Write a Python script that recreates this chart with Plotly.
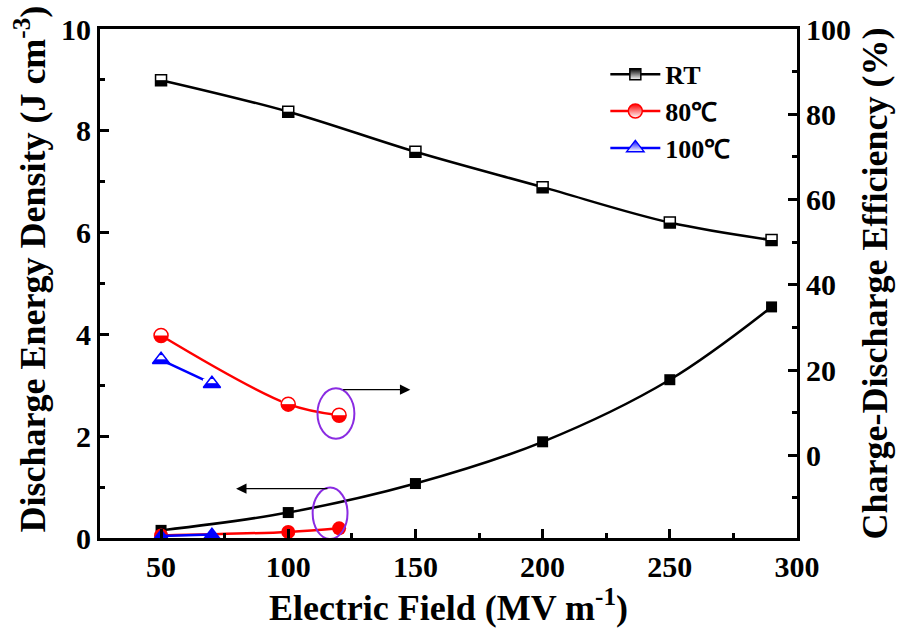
import plotly.graph_objects as go

# ---- data ----
field_rt = [50, 100, 150, 200, 250, 290]
energy_rt = [0.15, 0.50, 1.07, 1.89, 3.11, 4.54]
eff_rt = [88.0, 80.6, 71.2, 62.9, 54.6, 50.5]

field_80 = [50, 100, 120]
energy_80 = [0.05, 0.12, 0.19]
eff_80 = [28.1, 12.0, 9.4]

field_100 = [50, 70]
energy_100 = [0.04, 0.07]
eff_100 = [22.4, 16.8]

series_names = ["RT", "80\u2103", "100\u2103"]
colors = ["black", "#ff0000", "#0000ff"]

FONT = "Liberation Serif, Times New Roman, serif"

fig = go.Figure()

# symbol, marker size, white-bar length, bar thickness, bar offset (px)
styles = [
    ("square", 11, 11, 5.5, 2.75),
    ("circle", 14, 14, 7, 3.5),
    ("triangle-up", 15, 18, 4.2, 2.6),
]
groups = [
    (field_rt, energy_rt, eff_rt),
    (field_80, energy_80, eff_80),
    (field_100, energy_100, eff_100),
]

for (xs, en, ef), (sym, sz, blen, bthk, boff), name, col in zip(groups, styles, series_names, colors):
    # energy density (left axis), filled markers
    fig.add_trace(go.Scatter(
        x=xs, y=en, yaxis="y", mode="lines+markers",
        line=dict(color=col, width=2.5, shape="spline"),
        marker=dict(symbol=sym, size=sz, color=col, line=dict(width=0)),
        showlegend=False, hoverinfo="skip",
    ))
    # efficiency (right axis): filled markers, bottom half whitened, then outline
    fig.add_trace(go.Scatter(
        x=xs, y=ef, yaxis="y2", mode="lines+markers",
        line=dict(color=col, width=2.5, shape="spline"),
        marker=dict(symbol=sym, size=sz, color=col, line=dict(width=0)),
        showlegend=False,
    ))
    fig.add_trace(go.Scatter(
        x=xs, y=ef, yaxis="y2", mode="markers",
        marker=dict(symbol="line-ew", size=blen / 1.4, color="white", angle=180,
                    standoff=boff, line=dict(color="white", width=bthk)),
        showlegend=False, hoverinfo="skip",
    ))
    fig.add_trace(go.Scatter(
        x=xs, y=ef, yaxis="y2", mode="markers",
        marker=dict(symbol=sym + "-open", size=sz, color=col, line=dict(color=col, width=1.5)),
        showlegend=False, hoverinfo="skip",
    ))
    # legend entry
    fig.add_trace(go.Scatter(
        x=[None], y=[None], yaxis="y2", name=name, mode="lines+markers",
        line=dict(color=col, width=2.5),
        marker=dict(symbol=sym, size=sz, color=col,
                    gradient=dict(type="vertical", color="white"),
                    line=dict(color=col, width=1.5)),
        showlegend=True,
    ))

axis_common = dict(
    showline=True, linecolor="black", linewidth=3,
    ticks="inside", ticklen=9, tickwidth=2.5, tickcolor="black",
    showgrid=False, zeroline=False,
    tickfont=dict(family=FONT, size=30, color="black", weight="bold"),
)

fig.update_layout(
    width=900, height=630,
    margin=dict(l=100, r=100, t=21, b=92),
    paper_bgcolor="white", plot_bgcolor="white",
    font=dict(family=FONT, color="black", weight="bold"),
    xaxis=dict(
        range=[26, 300], tickvals=[50, 100, 150, 200, 250, 300],
        mirror=True,
        minor=dict(dtick=25, tick0=0, ticks="inside", ticklen=5, tickwidth=2.5, tickcolor="black"),
        title=dict(text="Electric Field (MV m<sup>-1</sup>)", standoff=0,
                   font=dict(family=FONT, size=36, color="black", weight="bold")),
        **axis_common,
    ),
    yaxis=dict(
        range=[0, 10], tickvals=[0, 2, 4, 6, 8, 10],
        minor=dict(dtick=1, tick0=0, ticks="inside", ticklen=5, tickwidth=2.5, tickcolor="black"),
        **axis_common,
    ),
    yaxis2=dict(
        overlaying="y", side="right",
        range=[-19.4, 100], tickvals=[0, 20, 40, 60, 80, 100],
        minor=dict(dtick=10, tick0=0, ticks="inside", ticklen=5, tickwidth=2.5, tickcolor="black"),
        title=dict(text="Charge-Discharge Efficiency (%)", standoff=12,
                   font=dict(family=FONT, size=36, color="black", weight="bold")),
        **axis_common,
    ),
    legend=dict(
        x=0.725, y=0.957, xanchor="left", yanchor="top",
        bgcolor="rgba(0,0,0,0)", borderwidth=0,
        font=dict(family=FONT, size=26, color="black", weight="bold"),
        tracegroupgap=0, itemwidth=50,
    ),
    showlegend=True,
)

# left axis title (placed slightly above centre, as in the original)
fig.add_annotation(
    text="Discharge Energy Density (J cm<sup>-3</sup>)", textangle=-90,
    xref="paper", yref="paper", x=-0.1, y=0.528, xanchor="center", yanchor="middle",
    showarrow=False, font=dict(family=FONT, size=36, color="black", weight="bold"),
)

# ellipses highlighting the 120 MV/m points
fig.add_shape(type="circle", xref="x", yref="y2", x0=111.5, x1=126, y0=3.9, y1=15.7,
              line=dict(color="#8a2be2", width=2))
fig.add_shape(type="circle", xref="x", yref="y", x0=109.6, x1=123.3, y0=-0.02, y1=0.99,
              line=dict(color="#8a2be2", width=2))

# arrows indicating the axis each group belongs to
fig.add_annotation(x=148, y=15.4, xref="x", yref="y2", ax=121, ay=15.4, axref="x", ayref="y2",
                   showarrow=True, arrowhead=2, arrowsize=1.6, arrowwidth=1.3, arrowcolor="black", text="")
fig.add_annotation(x=79.5, y=0.97, xref="x", yref="y", ax=116, ay=0.97, axref="x", ayref="y",
                   showarrow=True, arrowhead=2, arrowsize=1.6, arrowwidth=1.3, arrowcolor="black", text="")

fig.write_html("out.html")
